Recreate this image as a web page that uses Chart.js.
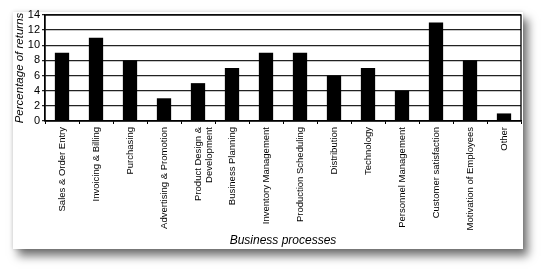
<!DOCTYPE html>
<html>
<head>
<meta charset="utf-8">
<script src="https://cdn.jsdelivr.net/npm/chart.js@4.4.0/dist/chart.umd.min.js"></script>
<style>
  body { margin: 0; background: #fff; }
  #panel {
    position: absolute; left: 13px; top: 12px; width: 510px; height: 237px;
    background: #fff; box-shadow: 5px 7px 9px rgba(0,0,0,0.55), 0 0 4px rgba(0,0,0,0.15);
  }
  #chart { display: block; position: absolute; left: 0; top: -6px; }
</style>
</head>
<body>
<div id="panel"><canvas id="chart" width="510" height="243"></canvas></div>
<script>
// datos
var categorias = [
  'Sales & Order Entry', 'Invoicing & Billing', 'Purchasing', 'Advertising & Promotion',
  ['Product Design &', 'Development'], 'Business Planning', 'Inventory Management',
  'Production Scheduling', 'Distribution', 'Technology', 'Personnel Management',
  'Customer satisfaction', 'Motivation of Employees', 'Other'
];
var porcentajes = [9, 11, 8, 3, 5, 7, 9, 9, 6, 7, 4, 13, 8, 1];
var ticksY = [0, 2, 4, 6, 8, 10, 12, 14];

// borde del area del grafico (arriba y derecha)
var bordeArea = {
  id: 'bordeArea',
  afterDraw: function(chart) {
    var a = chart.chartArea, c = chart.ctx;
    c.save();
    c.strokeStyle = '#000';
    c.lineWidth = 1.3;
    c.strokeRect(a.left, a.top, a.right - a.left, a.bottom - a.top);
    c.restore();
  }
};

var ctx = document.getElementById('chart').getContext('2d');
var grafico = new Chart(ctx, {
  type: 'bar',
  data: {
    labels: categorias,
    datasets: [{
      data: porcentajes,
      backgroundColor: '#000',
      borderWidth: 0,
      categoryPercentage: 1,
      barPercentage: 0.42
    }]
  },
  options: {
    responsive: false,
    animation: false,
    layout: { padding: { left: 0, right: 2, top: 9, bottom: 0 } },
    plugins: { legend: { display: false }, tooltip: { enabled: false } },
    scales: {
      x: {
        grid: { drawOnChartArea: false, drawTicks: true, tickLength: 3, color: '#000', lineWidth: 1 },
        border: { color: '#000', width: 1.3 },
        ticks: {
          color: '#000', font: { family: 'Liberation Sans', size: 9.5 },
          minRotation: 90, maxRotation: 90, autoSkip: false, padding: 3
        },
        title: {
          display: true, text: 'Business processes', color: '#000',
          font: { family: 'Liberation Sans', size: 12, style: 'italic' }, padding: { top: 0, bottom: 1 }
        },
        afterFit: function(s) { s.height = 128; s.paddingLeft = 0; s.paddingRight = 0; }
      },
      y: {
        min: 0, max: 14,
        afterBuildTicks: function(s) { s.ticks = ticksY.map(function(v) { return { value: v }; }); },
        grid: { color: '#222', lineWidth: 1.3, tickLength: 3 },
        border: { color: '#000', width: 1.3 },
        ticks: { color: '#000', font: { family: 'Liberation Sans', size: 11 }, padding: 2, autoSkip: false },
        title: {
          display: true, text: 'Percentage of returns', color: '#000',
          font: { family: 'Liberation Sans', size: 11.5, style: 'italic' }, padding: { top: 0, bottom: 0 }
        },
        afterFit: function(s) { s.width = 32; s.paddingTop = 0; s.paddingBottom = 0; }
      }
    }
  },
  plugins: [bordeArea]
});
</script>
</body>
</html>
